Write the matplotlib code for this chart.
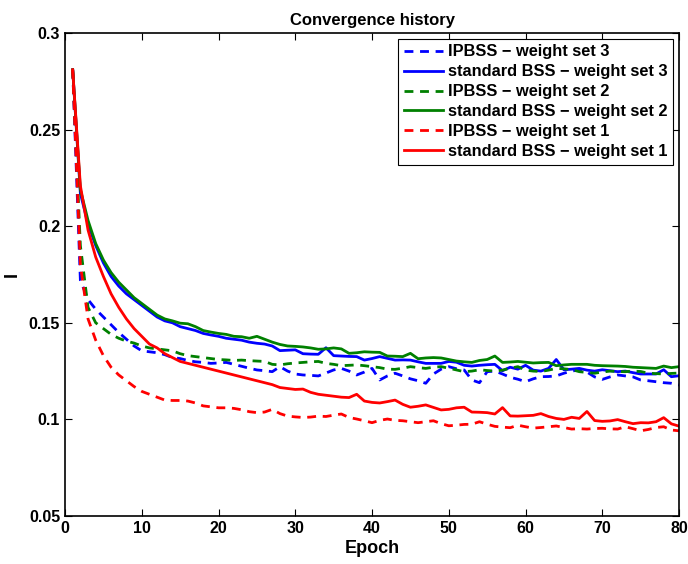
import numpy as np
import matplotlib
matplotlib.use('agg')
import matplotlib.pyplot as plt
from matplotlib.ticker import FormatStrFormatter

plt.rcParams['font.family'] = ['Liberation Sans', 'DejaVu Sans']
plt.rcParams['font.weight'] = 'bold'

epochs = np.arange(1, 81)

# IPBSS - weight set 3
ipbss_3 = [0.281, 0.172, 0.162, 0.157, 0.153, 0.149, 0.145, 0.1415, 0.138, 0.1355,
           0.135, 0.1345, 0.1335, 0.132, 0.1315, 0.1305, 0.1298, 0.1295, 0.129, 0.1292,
           0.1295, 0.1285, 0.1275, 0.1265, 0.1256, 0.1252, 0.1247, 0.1273, 0.125, 0.1235,
           0.123, 0.1228, 0.1225, 0.124, 0.1256, 0.1264, 0.125, 0.123, 0.1245, 0.1264,
           0.1204, 0.1225, 0.1239, 0.1225, 0.121, 0.12, 0.1187, 0.1235, 0.126, 0.1273,
           0.1262, 0.1256, 0.1204, 0.119, 0.1247, 0.125, 0.1235, 0.1218, 0.1208, 0.1195,
           0.121, 0.1221, 0.1222, 0.1225, 0.1239, 0.125, 0.1256, 0.1245, 0.122, 0.1207,
           0.122, 0.123, 0.1225, 0.122, 0.1204, 0.12, 0.1195, 0.119, 0.1187, 0.1178]
# standard BSS - weight set 3
std_3 = [0.281, 0.217, 0.201, 0.190, 0.181, 0.174, 0.169, 0.165, 0.162, 0.159,
         0.156, 0.153, 0.151, 0.150, 0.148, 0.147, 0.146, 0.1445, 0.1437, 0.143,
         0.142, 0.1415, 0.141, 0.140, 0.1394, 0.139, 0.138, 0.1356, 0.1358, 0.136,
         0.134, 0.1338, 0.1337, 0.1371, 0.133, 0.1328, 0.1326, 0.1325, 0.1307, 0.1315,
         0.1325, 0.1316, 0.1307, 0.1308, 0.1307, 0.1298, 0.129, 0.129, 0.129, 0.13,
         0.1296, 0.128, 0.1276, 0.128, 0.1283, 0.1285, 0.1252, 0.127, 0.126, 0.128,
         0.1255, 0.125, 0.1264, 0.131, 0.1257, 0.126, 0.1264, 0.1255, 0.125, 0.1257,
         0.1252, 0.1247, 0.125, 0.1242, 0.1235, 0.1235, 0.1235, 0.1257, 0.1221, 0.1226]
# IPBSS - weight set 2
ipbss_2 = [0.281, 0.190, 0.158, 0.150, 0.147, 0.144, 0.142, 0.1405, 0.1395, 0.138,
           0.137, 0.1365, 0.136, 0.1355, 0.134, 0.133, 0.1325, 0.132, 0.1315, 0.131,
           0.1308, 0.1305, 0.1307, 0.1304, 0.1302, 0.130, 0.1285, 0.1282, 0.1288, 0.1292,
           0.1295, 0.1298, 0.130, 0.129, 0.1285, 0.1278, 0.128, 0.1282, 0.1278, 0.1273,
           0.1268, 0.126, 0.1259, 0.1265, 0.1273, 0.1268, 0.1264, 0.127, 0.1273, 0.1265,
           0.1256, 0.1247, 0.125, 0.1257, 0.1253, 0.125, 0.1255, 0.1265, 0.1273, 0.1255,
           0.125, 0.1248, 0.1255, 0.1264, 0.1262, 0.1258, 0.1247, 0.1243, 0.1239, 0.1245,
           0.125, 0.1248, 0.1247, 0.125, 0.1248, 0.1239, 0.1237, 0.1235, 0.1238, 0.124]
# standard BSS - weight set 2
std_2 = [0.281, 0.219, 0.203, 0.191, 0.1825, 0.176, 0.171, 0.167, 0.163, 0.160,
         0.157, 0.154, 0.152, 0.151, 0.1498, 0.1495, 0.148, 0.146, 0.1452, 0.1445,
         0.144, 0.143, 0.1428, 0.142, 0.143, 0.1415, 0.140, 0.1388, 0.138, 0.1378,
         0.1375, 0.137, 0.1363, 0.1365, 0.137, 0.1365, 0.1342, 0.1345, 0.135, 0.1348,
         0.1347, 0.1328, 0.1327, 0.1325, 0.1342, 0.1314, 0.1318, 0.132, 0.1318, 0.131,
         0.1302, 0.1298, 0.1295, 0.1305, 0.131, 0.1328, 0.1295, 0.1297, 0.13, 0.1296,
         0.1292, 0.1294, 0.1295, 0.1278, 0.1282, 0.1285, 0.1285, 0.1285, 0.128, 0.1278,
         0.1277, 0.1276, 0.1274, 0.127, 0.1268, 0.1266, 0.1264, 0.1276, 0.1268, 0.1273]
# IPBSS - weight set 1
ipbss_1 = [0.281, 0.180, 0.152, 0.141, 0.133, 0.127, 0.123, 0.120, 0.117, 0.1145,
           0.113, 0.1115, 0.110, 0.1098, 0.1098, 0.1095, 0.1085, 0.107, 0.1065, 0.106,
           0.106, 0.1057, 0.105, 0.104, 0.1035, 0.1038, 0.1052, 0.103, 0.1017, 0.1013,
           0.101, 0.1012, 0.1017, 0.1015, 0.1022, 0.1028, 0.101, 0.1002, 0.0993, 0.0983,
           0.0995, 0.1002, 0.0995, 0.0993, 0.0988, 0.0983, 0.0988, 0.0993, 0.0978, 0.0967,
           0.097, 0.0974, 0.0975, 0.0988, 0.0975, 0.0964, 0.096, 0.0957, 0.097, 0.0962,
           0.0955, 0.0958, 0.0962, 0.0966, 0.0958, 0.095, 0.0952, 0.095, 0.0953, 0.0954,
           0.0951, 0.095, 0.0962, 0.0952, 0.0941, 0.0948, 0.0958, 0.0962, 0.0945, 0.0941]
# standard BSS - weight set 1
std_1 = [0.281, 0.221, 0.198, 0.184, 0.174, 0.165, 0.158, 0.152, 0.147, 0.143,
         0.139, 0.137, 0.134, 0.132, 0.130, 0.129, 0.128, 0.127, 0.126, 0.125,
         0.124, 0.123, 0.122, 0.121, 0.120, 0.119, 0.118, 0.1165, 0.116, 0.1155,
         0.1157, 0.114, 0.113, 0.1125, 0.112, 0.1115, 0.1113, 0.113, 0.1095, 0.1088,
         0.1085, 0.1092, 0.110, 0.1078, 0.1063, 0.1068, 0.1075, 0.1062, 0.1049, 0.1052,
         0.106, 0.1063, 0.1038, 0.1037, 0.1035, 0.1028, 0.1061, 0.1018, 0.1017, 0.1019,
         0.1021, 0.103, 0.1015, 0.1005, 0.1, 0.1011, 0.1005, 0.1041, 0.0994, 0.099,
         0.0992, 0.0999, 0.0988, 0.0978, 0.0983, 0.0982, 0.0988, 0.1009, 0.0977, 0.0965]

series = [
    (ipbss_3, 'IPBSS \u2212 weight set 3', 'blue', '--'),
    (std_3, 'standard BSS \u2212 weight set 3', 'blue', '-'),
    (ipbss_2, 'IPBSS \u2212 weight set 2', 'green', '--'),
    (std_2, 'standard BSS \u2212 weight set 2', 'green', '-'),
    (ipbss_1, 'IPBSS \u2212 weight set 1', 'red', '--'),
    (std_1, 'standard BSS \u2212 weight set 1', 'red', '-'),
]

fig = plt.figure(figsize=(6.88, 5.64), dpi=100)
ax = fig.add_axes([0.0945, 0.0851, 0.8925, 0.8564])

for values, label, color, style in series:
    line, = ax.plot(epochs, values, style, color=color, lw=2, label=label)
    if style == '--':
        line.set_dashes((3.2, 2.4))

ax.set_xlim(0, 80)
ax.set_ylim(0.05, 0.3)
ax.set_xticks(np.arange(0, 81, 10))
ax.set_yticks([0.05, 0.1, 0.15, 0.2, 0.25, 0.3])
ax.yaxis.set_major_formatter(FormatStrFormatter('%g'))
ax.tick_params(direction='in', top=True, right=True, labelsize=11.5, length=5, width=0.8)
for lbl in ax.get_xticklabels() + ax.get_yticklabels():
    lbl.set_fontweight('bold')
for s in ax.spines.values():
    s.set_linewidth(1.2)

ax.set_xlabel('Epoch', fontsize=13, fontweight='bold', labelpad=3)
ax.set_ylabel('I', fontsize=13, fontweight='bold', labelpad=6)
ax.set_title('Convergence history', fontsize=12, fontweight='bold', pad=6)

leg = ax.legend(loc='upper right', fontsize=11.8, fancybox=False, framealpha=1,
                edgecolor='black', borderpad=0.35, labelspacing=0.3,
                handlelength=2.4, handletextpad=0.3, borderaxespad=0.35)
leg.get_frame().set_linewidth(0.8)
for t in leg.get_texts():
    t.set_fontweight('bold')

fig.savefig('out.png', dpi=100)
